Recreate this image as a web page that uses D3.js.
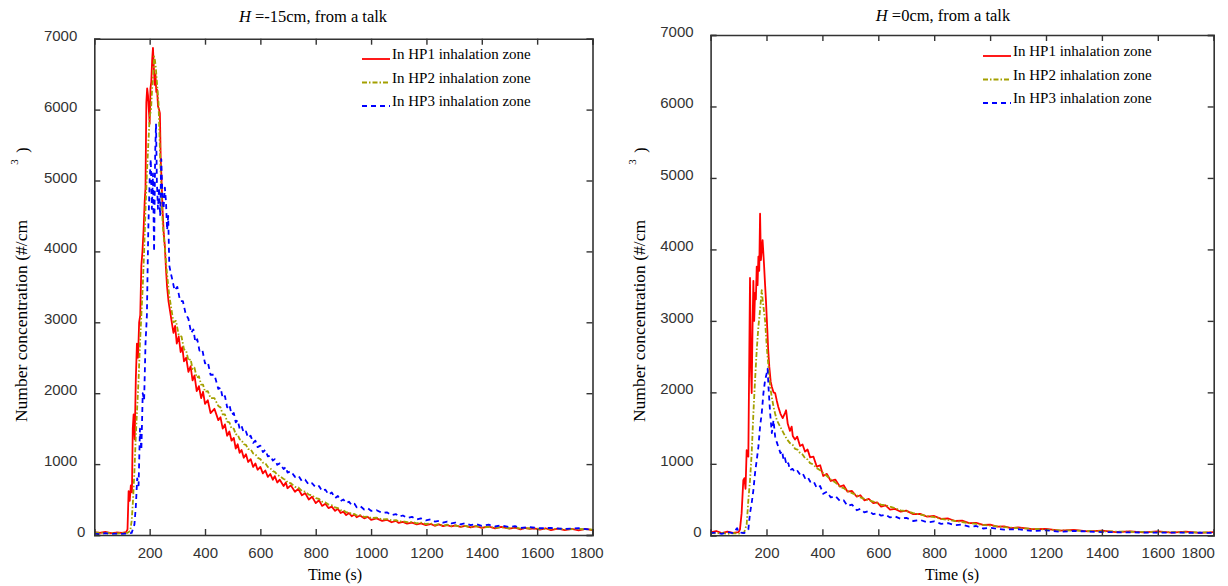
<!DOCTYPE html>
<html>
<head>
<meta charset="utf-8">
<script src="https://cdn.jsdelivr.net/npm/d3@7"></script>
<style>
  body { margin: 0; background: #fff; }
  svg { display: block; }
</style>
</head>
<body>
<div id="chart"></div>
<script>
// ---- data: [time (s), number concentration] ----
var xTicks = [200, 400, 600, 800, 1000, 1200, 1400, 1600, 1800];
var yTicks = [0, 1000, 2000, 3000, 4000, 5000, 6000, 7000];
var seriesNames = ["In HP1 inhalation zone", "In HP2 inhalation zone", "In HP3 inhalation zone"];

// H = -15cm
var hp1Low = [[0,40],[20,30],[40,45],[60,25],[80,35],[100,30],[115,40],[120,80],[124,620],[128,480],[132,700],[136,600],[139,1500],[142,1700],[146,1350],[150,2200],[154,2700],[158,2500],[162,3000],[166,3100],[170,3800],[174,4000],[178,4300],[182,4700],[185,4900],[188,6100],[191,6300],[194,6200],[197,6000],[200,5800],[203,6300],[206,6400],[209,6700],[212,6870],[215,6600],[218,6350],[221,6500],[224,6250],[227,6280],[230,6050],[234,6000],[237,5950],[240,5300],[243,5000],[247,4550],[251,4250],[255,4070],[259,3750],[263,3500],[268,3300],[274,3150],[280,3000],[286,2850],[292,2950],[298,2700],[305,2800],[312,2580],[318,2650],[324,2450],[332,2500],[340,2300],[348,2380],[355,2180],[362,2250],[370,2030],[378,2100],[386,1930],[393,2020],[400,1850],[410,1900],[420,1720],[434,1780],[448,1620],[456,1660],[464,1500],[472,1560],[480,1400],[488,1460],[496,1330],[504,1370],[511,1220],[518,1280],[525,1160],[532,1200],[540,1090],[548,1140],[556,1030],[565,1070],[574,960],[582,1010],[590,920],[600,960],[609,870],[618,910],[627,820],[636,860],[645,780],[652,830],[661,740],[670,780],[684,690],[692,740],[698,660],[710,700],[725,610],[737,650],[750,560],[762,590],[775,500],[787,540],[800,450],[812,490],[823,410],[835,440],[846,380],[858,400],[870,340],[880,370],[890,310],[900,330],[910,280],[920,310],[930,265],[940,290],[948,250],[960,275],[975,235],[988,255],[1000,215],[1020,235],[1040,200],[1057,215],[1074,180],[1090,200],[1100,170],[1115,185],[1130,160],[1148,175],[1165,150],[1180,165],[1198,140],[1215,155],[1230,130],[1245,150],[1260,125],[1275,140],[1290,120],[1305,135],[1323,115],[1340,130],[1360,108],[1380,125],[1400,100],[1425,120],[1448,95],[1470,115],[1500,90],[1520,105],[1540,80],[1555,100],[1573,85],[1590,95],[1610,75],[1630,95],[1650,70],[1675,90],[1700,70],[1725,85],[1750,65],[1775,85],[1800,70]];
var hp2Low = [[0,30],[20,35],[40,25],[60,30],[80,20],[100,30],[120,30],[130,60],[135,200],[140,500],[145,900],[150,1400],[155,1800],[160,2200],[165,2700],[170,3100],[175,3500],[180,4000],[185,4600],[190,5100],[195,5500],[200,5900],[205,6000],[209,6300],[213,6500],[216,6750],[219,6700],[222,6600],[226,6400],[229,6250],[232,6100],[235,5700],[239,5200],[243,4770],[247,4400],[251,4200],[255,4050],[260,3800],[265,3600],[270,3400],[278,3200],[286,3000],[295,3020],[305,2820],[315,2800],[324,2620],[332,2600],[340,2460],[348,2480],[355,2340],[362,2360],[370,2220],[378,2240],[386,2120],[393,2120],[400,2020],[410,2030],[420,1930],[434,1930],[448,1820],[456,1800],[464,1700],[472,1700],[480,1600],[488,1590],[496,1500],[504,1500],[511,1420],[518,1420],[525,1350],[532,1340],[540,1280],[548,1270],[556,1210],[565,1210],[574,1150],[582,1140],[590,1090],[600,1070],[609,1020],[618,1010],[627,960],[636,940],[645,900],[652,890],[661,850],[670,830],[684,790],[692,780],[698,740],[710,730],[725,680],[737,670],[750,620],[762,610],[775,570],[787,560],[800,520],[812,510],[823,470],[835,460],[846,430],[858,420],[870,390],[880,380],[890,350],[900,350],[910,320],[920,320],[930,295],[940,295],[948,275],[960,280],[975,255],[988,260],[1000,240],[1020,245],[1040,220],[1057,225],[1074,205],[1090,210],[1100,190],[1115,195],[1130,180],[1148,185],[1165,165],[1180,175],[1198,155],[1215,165],[1230,140],[1245,155],[1260,130],[1275,145],[1290,125],[1305,135],[1323,115],[1340,130],[1360,110],[1380,125],[1400,105],[1425,115],[1448,100],[1470,110],[1500,95],[1520,105],[1540,90],[1573,95],[1610,85],[1650,90],[1700,80],[1750,85],[1800,75]];
var hp3Low = [[0,20],[20,10],[40,25],[60,15],[80,20],[100,15],[120,20],[135,30],[145,150],[150,400],[155,800],[160,700],[165,1500],[170,1200],[175,2000],[180,1900],[185,2700],[190,3100],[195,4300],[200,5000],[204,5300],[208,4600],[212,5100],[216,4000],[220,5400],[223,5800],[226,5000],[230,4600],[234,4900],[238,4500],[242,5300],[246,4800],[250,4600],[255,4900],[259,4700],[263,4300],[267,4500],[271,3800],[276,3700],[282,3600],[290,3450],[300,3500],[310,3300],[320,3300],[330,3120],[340,3050],[350,2850],[358,2900],[365,2720],[372,2760],[380,2600],[390,2620],[400,2420],[410,2440],[420,2260],[434,2260],[448,2060],[456,2080],[464,1930],[472,1960],[480,1800],[488,1840],[496,1700],[504,1720],[511,1590],[518,1620],[525,1500],[532,1540],[540,1440],[548,1460],[556,1370],[565,1400],[574,1300],[582,1330],[590,1240],[600,1260],[609,1170],[618,1200],[627,1110],[636,1120],[645,1050],[652,1070],[661,990],[670,1010],[684,930],[692,960],[698,880],[710,900],[725,820],[737,840],[750,760],[762,780],[775,710],[787,730],[800,670],[812,690],[823,620],[835,640],[846,570],[858,600],[870,520],[880,550],[890,480],[900,500],[910,450],[920,470],[930,420],[940,440],[948,390],[960,410],[975,360],[988,380],[1000,340],[1020,350],[1040,310],[1057,320],[1074,280],[1090,295],[1100,260],[1115,275],[1130,240],[1148,255],[1165,220],[1180,235],[1198,205],[1215,220],[1230,190],[1245,200],[1260,175],[1275,190],[1290,165],[1305,175],[1323,150],[1340,165],[1360,140],[1380,155],[1400,130],[1425,145],[1448,120],[1470,135],[1500,110],[1520,125],[1540,100],[1573,110],[1610,95],[1650,100],[1700,85],[1750,95],[1800,75]];

// H = 0cm
var hp1Zero = [[0,40],[20,60],[40,30],[60,50],[80,35],[100,45],[105,80],[111,310],[117,770],[121,800],[125,650],[129,1190],[135,1100],[141,3600],[144,2400],[147,1990],[150,2900],[153,3560],[156,3000],[159,3390],[162,3300],[165,3760],[168,3500],[171,3900],[174,3700],[177,4500],[180,3850],[183,4000],[186,4130],[191,3800],[195,3500],[198,3290],[203,2870],[206,2600],[210,2360],[215,2150],[219,2080],[225,2000],[231,1990],[237,1880],[242,1800],[250,1700],[258,1640],[266,1710],[270,1750],[276,1560],[284,1460],[290,1520],[294,1390],[302,1340],[310,1380],[320,1250],[329,1270],[338,1170],[347,1200],[356,1090],[368,1100],[380,960],[392,980],[403,830],[416,860],[430,760],[446,780],[463,680],[476,700],[490,610],[506,620],[523,540],[536,560],[550,490],[566,510],[582,450],[596,460],[610,400],[626,420],[642,360],[660,370],[680,330],[700,345],[725,295],[750,300],[775,260],[800,270],[825,230],[850,235],[875,200],[900,205],[925,170],[950,175],[975,145],[1000,150],[1025,120],[1050,125],[1075,100],[1100,110],[1150,85],[1200,90],[1250,65],[1300,75],[1350,55],[1400,65],[1450,45],[1500,55],[1550,40],[1600,55],[1650,38],[1700,50],[1750,35],[1800,45]];
var hp2Zero = [[0,30],[20,25],[40,35],[60,20],[80,30],[100,25],[120,40],[129,150],[135,490],[141,770],[147,1150],[153,1700],[159,2170],[165,2590],[171,2920],[177,3150],[183,3430],[186,3300],[189,3200],[195,3000],[201,2640],[207,2360],[213,2080],[219,1930],[225,1800],[231,1700],[237,1610],[249,1520],[261,1430],[272,1350],[284,1290],[293,1270],[302,1210],[311,1200],[320,1150],[329,1130],[338,1080],[347,1060],[356,1010],[368,990],[380,940],[392,910],[403,870],[416,830],[430,780],[446,740],[463,680],[476,660],[490,620],[506,590],[523,560],[536,530],[550,510],[566,490],[582,470],[596,450],[610,430],[626,420],[642,400],[660,380],[680,350],[700,340],[725,310],[750,290],[775,270],[800,255],[825,230],[850,215],[875,200],[900,185],[925,170],[950,160],[975,145],[1000,135],[1050,115],[1100,100],[1150,90],[1200,80],[1250,70],[1300,65],[1400,55],[1500,50],[1600,45],[1700,42],[1800,40]];
var hp3Zero = [[0,30],[20,40],[40,20],[60,45],[80,30],[95,100],[100,40],[120,30],[135,80],[141,310],[147,450],[153,630],[159,870],[165,1050],[171,1240],[177,1520],[183,1710],[189,1990],[195,2170],[201,2270],[204,2330],[207,2080],[213,1710],[219,1430],[225,1610],[231,1380],[237,1300],[242,1240],[250,1150],[256,1180],[261,1050],[266,1080],[272,980],[278,1010],[284,910],[293,930],[302,880],[311,900],[320,850],[329,870],[338,800],[347,820],[356,750],[368,760],[380,660],[392,690],[403,580],[416,610],[430,530],[446,550],[463,480],[476,490],[490,410],[506,430],[523,350],[536,370],[550,320],[566,340],[582,295],[596,310],[610,275],[626,290],[642,250],[660,265],[680,230],[700,245],[725,200],[750,215],[775,180],[800,195],[825,160],[850,170],[875,140],[900,150],[925,120],[950,130],[975,95],[1000,105],[1050,80],[1100,85],[1150,60],[1200,70],[1250,50],[1300,60],[1400,45],[1500,40],[1600,38],[1700,36],[1800,35]];

var W = 1228, H = 586;
var svg = d3.select("#chart").append("svg")
    .attr("width", W)
    .attr("height", H);

var serif = "'Liberation Serif','Times New Roman',serif";
var sans = "'Liberation Sans',Arial,sans-serif";

var styles = [
  {color: "#ff0000", dash: null},
  {color: "#a3a000", dash: "5,2,1.5,2"},
  {color: "#0000ff", dash: "5,4"}
];

function drawPanel(p) {
  var x = d3.scaleLinear().domain([0, 1800]).range([p.left, p.right]);
  var y = d3.scaleLinear().domain([0, 7000]).range([p.bottom, p.top]);
  var g = svg.append("g");

  g.append("clipPath").attr("id", p.id + "clip")
    .append("rect")
      .attr("x", p.left).attr("y", p.top)
      .attr("width", p.right - p.left).attr("height", p.bottom - p.top);

  // curves
  var line = d3.line()
      .x(function(d) { return x(d[0]); })
      .y(function(d) { return y(d[1]); });
  p.series.forEach(function(s, i) {
    g.append("path")
      .datum(s)
      .attr("clip-path", "url(#" + p.id + "clip)")
      .attr("fill", "none")
      .attr("stroke", styles[i].color)
      .attr("stroke-width", 1.8)
      .attr("stroke-dasharray", styles[i].dash)
      .attr("stroke-linejoin", "round")
      .attr("d", line);
  });

  // axes, ticks inward on all sides
  var fmt = d3.format("d");
  var bottom = g.append("g")
    .attr("transform", "translate(0," + p.bottom + ")")
    .call(d3.axisBottom(x).tickValues(xTicks).tickSize(-6).tickPadding(12).tickFormat(fmt));
  g.append("g")
    .attr("transform", "translate(0," + p.top + ")")
    .call(d3.axisTop(x).tickValues(xTicks).tickSize(-6).tickFormat(""));
  var left = g.append("g")
    .attr("transform", "translate(" + p.left + ",0)")
    .call(d3.axisLeft(y).tickValues(yTicks).tickSize(-6).tickFormat(fmt));
  g.append("g")
    .attr("transform", "translate(" + p.right + ",0)")
    .call(d3.axisRight(y).tickValues(yTicks).tickSize(-6).tickFormat(""));

  g.selectAll(".domain").attr("stroke", "#333").attr("stroke-width", 1.6);
  g.selectAll(".tick line").attr("stroke", "#333").attr("stroke-width", 1.4);
  g.selectAll(".tick text")
    .attr("font-family", sans)
    .attr("font-size", 15)
    .attr("fill", "#333");
  bottom.selectAll(".tick text")
    .attr("dy", "0.71em")
    .attr("x", function(d) { return d === 1800 ? p.lastShift : 0; });
  left.selectAll(".tick text")
    .attr("x", function(d) { return d === 0 ? -9 : -17; })
    .attr("dy", "0.1em");

  // title
  var t = g.append("text")
    .attr("x", p.titleX).attr("y", p.titleY)
    .attr("text-anchor", "middle")
    .attr("font-family", serif).attr("font-size", 16.5);
  t.append("tspan").attr("font-style", "italic").text("H");
  t.append("tspan").text(" =" + p.title);

  // axis labels
  g.append("text")
    .attr("x", p.xLabelX).attr("y", 580)
    .attr("text-anchor", "middle")
    .attr("font-family", serif).attr("font-size", 16)
    .text("Time (s)");
  g.append("text")
    .attr("transform", "translate(" + p.yLabelX + ",321) rotate(-90)")
    .attr("text-anchor", "middle")
    .attr("font-family", serif).attr("font-size", 17.5)
    .text("Number concentration (#/cm");
  g.append("text")
    .attr("transform", "translate(" + (p.yLabelX - 9) + ",162) rotate(-90)")
    .attr("text-anchor", "middle")
    .attr("font-family", serif).attr("font-size", 11)
    .text("3");
  g.append("text")
    .attr("transform", "translate(" + (p.yLabelX + 1) + ",150) rotate(-90)")
    .attr("text-anchor", "middle")
    .attr("font-family", serif).attr("font-size", 16)
    .text(")");

  // legend
  seriesNames.forEach(function(name, i) {
    var ly = p.legendY + i * 23.5;
    g.append("line")
      .attr("x1", p.legendX).attr("x2", p.legendX + 28)
      .attr("y1", ly + 5).attr("y2", ly + 5)
      .attr("stroke", styles[i].color)
      .attr("stroke-width", 1.8)
      .attr("stroke-dasharray", styles[i].dash);
    g.append("text")
      .attr("x", p.legendX + 30).attr("y", ly + 5)
      .attr("font-family", serif).attr("font-size", 15)
      .text(name);
  });
}

drawPanel({id: "low", left: 94.3, right: 592.5, top: 38.7, bottom: 535,
  series: [hp1Low, hp2Low, hp3Low], title: "-15cm, from a talk", lastShift: -6,
  titleX: 313, titleY: 22, xLabelX: 335, yLabelX: 27, legendX: 362, legendY: 54});
drawPanel({id: "zero", left: 710.6, right: 1213.7, top: 35, bottom: 535.3,
  series: [hp1Zero, hp2Zero, hp3Zero], title: "0cm, from a talk", lastShift: -16,
  titleX: 943, titleY: 21, xLabelX: 952, yLabelX: 645, legendX: 983, legendY: 51});
</script>
</body>
</html>
